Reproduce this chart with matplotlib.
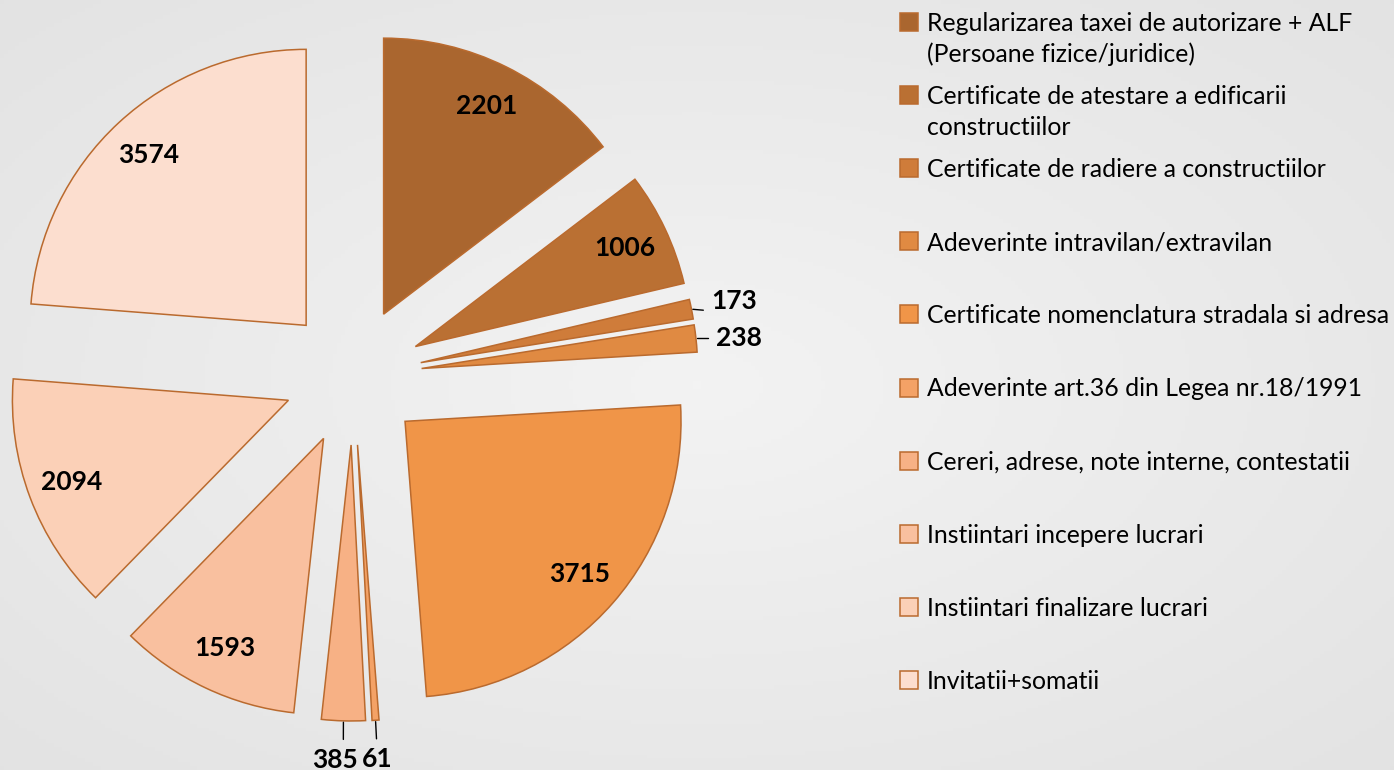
import matplotlib
matplotlib.use('Agg')
import matplotlib.pyplot as plt
from matplotlib.colors import LinearSegmentedColormap
from matplotlib.patches import Rectangle
import numpy as np

# data (clockwise from 12 o'clock)
categories = [
    'Regularizarea taxei de autorizare + ALF\n(Persoane fizice/juridice)',
    'Certificate de atestare a edificarii\nconstructiilor',
    'Certificate de radiere a constructiilor',
    'Adeverinte intravilan/extravilan',
    'Certificate nomenclatura stradala si adresa',
    'Adeverinte art.36 din Legea nr.18/1991',
    'Cereri, adrese, note interne, contestatii',
    'Instiintari incepere lucrari',
    'Instiintari finalizare lucrari',
    'Invitatii+somatii',
]
values = [2201, 1006, 173, 238, 3715, 61, 385, 1593, 2094, 3574]
colors = ['#AA662F', '#BA7033', '#CF7C3A', '#E08A42', '#F09548',
          '#F4A266', '#F7B185', '#F9C09F', '#FBD0B7', '#FCDECF']
edge = '#BA6A2E'

W, H = 1394, 770
fig = plt.figure(figsize=(W / 100, H / 100), dpi=100)

# light grey paper background with a soft vignette
bg = fig.add_axes([0, 0, 1, 1])
yy, xx = np.mgrid[0:1:200j, 0:1:360j]
r = np.sqrt(((xx - 0.5) / 0.75) ** 2 + ((yy - 0.5) / 0.75) ** 2)
bg.imshow(r, cmap=LinearSegmentedColormap.from_list('bg', ['#F3F3F3', '#E2E2E2']),
          extent=[0, 1, 0, 1], aspect='auto', vmin=0, vmax=1)
bg.axis('off')

# pie axes, units = pie radius, scaled in pixels
R = 276.0
cx, cy = 353.0, 376.0
ax = fig.add_axes([0, 0, 1, 1])
ax.set_facecolor('none')
wedges, _ = ax.pie(values, colors=colors, startangle=90, counterclock=False,
                   explode=[0.25] * len(values), radius=1,
                   wedgeprops=dict(edgecolor=edge, linewidth=1.1))
ax.set_xlim(-cx / R, (W - cx) / R)
ax.set_ylim(-(H - cy) / R, cy / R)
ax.set_aspect('auto')
ax.axis('off')

lab_font = dict(family='Lato', fontsize=19, fontweight='bold', color='black')
# offsets (points) for the small slices whose labels sit outside
outside = {2: (31, 6, (0.5, 0), 'arc3'),
           3: (31, 0, (0, 0.5), 'angle,angleA=0,angleB=90,rad=0'),
           5: (1, -28, (0.5, 1), 'arc3'),
           6: (-6, -28, (0.68, 1), 'arc3')}
for i, (w, v) in enumerate(zip(wedges, values)):
    th = np.radians((w.theta1 + w.theta2) / 2)
    ux, uy = np.cos(th), np.sin(th)
    ox, oy = w.center
    if i in outside:
        dx, dy, rel, conn = outside[i]
        ax.annotate(str(v), xy=(ox + ux, oy + uy), xytext=(dx, dy),
                    textcoords='offset points', ha='center', va='center',
                    arrowprops=dict(arrowstyle='-', color='black', lw=1.0,
                                    relpos=rel, shrinkA=4, shrinkB=1,
                                    connectionstyle=conn),
                    **lab_font)
    else:
        ax.text(ox + 0.84 * ux, oy + 0.84 * uy, str(v), ha='center', va='center',
                **lab_font)

# legend drawn by hand so wrapped entries keep the box on the first line
leg_fs = 17.8
cap = 0.72 * leg_fs * 100 / 72
for i, (name, col) in enumerate(zip(categories, colors)):
    yc = 22 + 73.1 * i
    fig.patches.append(Rectangle((900 / W, 1 - (yc + 9) / H), 18 / W, 18 / H,
                                 transform=fig.transFigure, facecolor=col,
                                 edgecolor=edge, linewidth=1.1))
    for j, line in enumerate(name.split('\n')):
        fig.text(927 / W, 1 - (yc + cap / 2 + 31 * j) / H, line, family='Lato',
                 fontsize=leg_fs, color='black', va='baseline', ha='left')

fig.savefig('out.png', dpi=100)
